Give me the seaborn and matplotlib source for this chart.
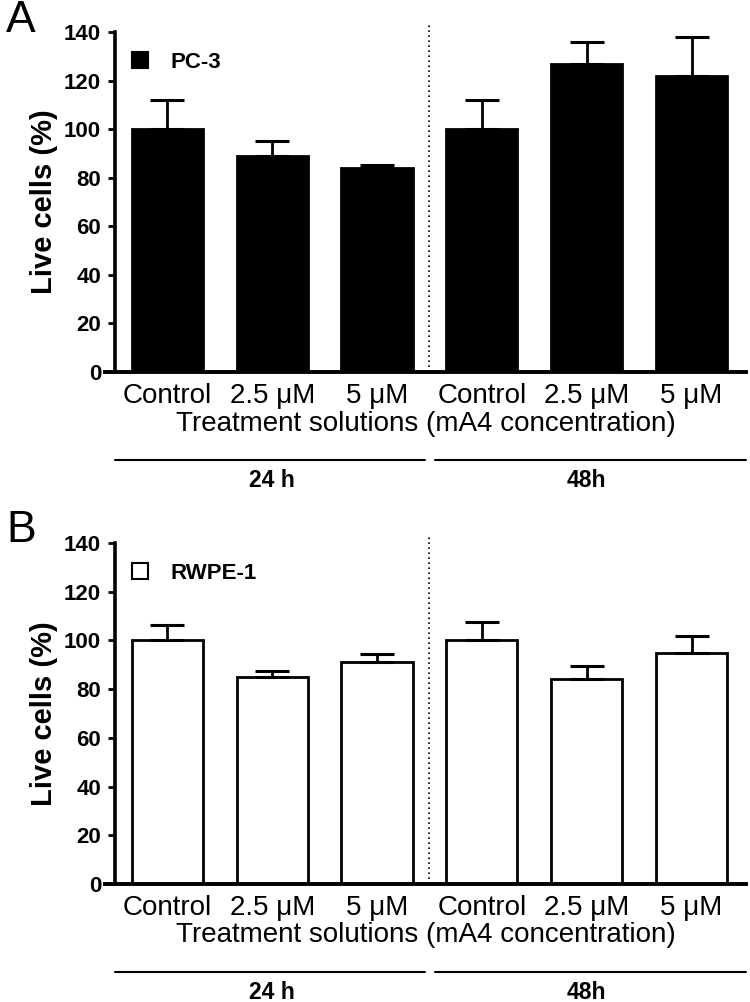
import numpy as np
import pandas as pd
import matplotlib
matplotlib.use("Agg")
import matplotlib.pyplot as plt
import matplotlib.transforms as mtransforms
from matplotlib.lines import Line2D
import seaborn as sns

# data
conditions = ["Control", "2.5 \u03bcM", "5 \u03bcM", "Control", "2.5 \u03bcM", "5 \u03bcM"]
time_points = ["24 h", "24 h", "24 h", "48h", "48h", "48h"]
pc3_mean = [100, 89, 84, 100, 127, 122]
pc3_sem = [12, 6, 1.2, 12, 9, 16]
rwpe_mean = [100, 85, 91, 100, 84, 95]
rwpe_sem = [6.5, 2.6, 3.5, 7.5, 5.6, 7]

sns.set_style("white")
plt.rcParams['font.family'] = ['Liberation Sans', 'DejaVu Sans']
plt.rcParams.update({"axes.edgecolor": "black", "text.color": "black",
                     "axes.labelcolor": "black", "xtick.color": "black",
                     "ytick.color": "black"})

fig = plt.figure(figsize=(7.5, 10.02), dpi=100)
ax_a = fig.add_axes([0.14, 0.6287, 0.8547, 0.3393])
ax_b = fig.add_axes([0.14, 0.1178, 0.8547, 0.3403])


def draw_panel(ax, means, sems, face, label, letter):
    keys = [f"{t} {c}" for t, c in zip(time_points, conditions)]
    df = pd.DataFrame({"key": keys, "value": means})
    sns.barplot(data=df, x="key", y="value", order=keys, color=face,
                edgecolor="black", linewidth=2, width=0.68, saturation=1,
                errorbar=None, ax=ax)
    xs = np.arange(len(keys))
    ax.errorbar(xs, means, yerr=[np.zeros(len(sems)), sems], fmt="none",
                ecolor="black", elinewidth=2, capsize=12, capthick=2.2, zorder=3)

    # spines first: moving a spine resets the tick styling
    sns.despine(ax=ax)
    ax.spines["left"].set_position(("data", -0.5))
    ax.spines["left"].set_linewidth(2.6)
    ax.spines["bottom"].set_linewidth(2.8)

    ax.set_xlim(-0.595, 5.52)
    ax.set_ylim(0, 140)
    yt = list(range(0, 141, 20))
    ax.set_yticks(yt)
    ax.set_yticklabels([str(v) for v in yt], fontsize=16, fontweight="bold")
    ax.set_xticks(xs)
    ax.set_xticklabels(conditions, fontsize=20)
    ax.tick_params(axis="y", direction="out", length=5, width=2, pad=5, left=True)
    ax.tick_params(axis="x", length=0, pad=8)

    ax.set_ylabel("Live cells (%)", fontsize=21, fontweight="bold", labelpad=4)
    ax.set_xlabel("Treatment solutions (mA4 concentration)", fontsize=20, labelpad=1)

    ax.vlines(2.5, 0, 143, colors="black", linestyles=(0, (1, 2)),
              linewidth=1.2, clip_on=False)

    # time-point brackets below the axis
    trans = mtransforms.blended_transform_factory(ax.transData, ax.transAxes)
    ax.plot([-0.5, 2.46], [-0.258, -0.258], color="black", lw=1.5,
            transform=trans, clip_on=False)
    ax.plot([2.555, 5.52], [-0.258, -0.258], color="black", lw=1.5,
            transform=trans, clip_on=False)
    ax.text(1.0, -0.318, "24 h", transform=trans, ha="center", va="center",
            fontsize=16.5, fontweight="bold")
    ax.text(4.0, -0.318, "48h", transform=trans, ha="center", va="center",
            fontsize=16.5, fontweight="bold")

    handle = Line2D([], [], marker="s", linestyle="none", markersize=11,
                    markerfacecolor=face, markeredgecolor="black",
                    markeredgewidth=1.5)
    ax.legend([handle], [label], loc="upper left",
              bbox_to_anchor=(-0.005, 1.0), frameon=False,
              handletextpad=0.6, handlelength=1.6,
              prop={"size": 16, "weight": "bold"})

    fig.text(0.008, ax.get_position().y1 + 0.012, letter, fontsize=32,
             ha="left", va="center")


draw_panel(ax_a, pc3_mean, pc3_sem, "black", "PC-3", "A")
draw_panel(ax_b, rwpe_mean, rwpe_sem, "white", "RWPE-1", "B")

fig.savefig("out.png", dpi=100)
